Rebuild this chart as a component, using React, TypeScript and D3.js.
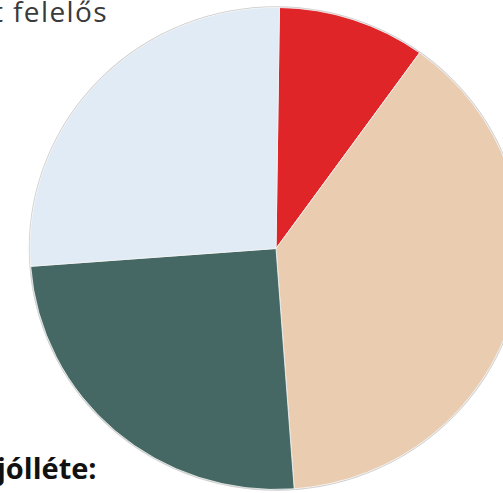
import { useEffect, useRef } from 'react';
import * as d3 from 'd3';

// slice shares, clockwise from the top
const categories = ['piros', 'bézs', 'zöld', 'világoskék'];
const shares = [9.7, 38.9, 25.0, 26.4];
const colors = ['#df2528', '#eacdb0', '#466864', '#e0ebf6'];

const topText = 't felelős';
const bottomText = 'jólléte:';

export default function App() {
  const svgRef = useRef<SVGSVGElement>(null);

  useEffect(() => {
    if (!svgRef.current) return;
    const svg = d3.select(svgRef.current);
    svg.selectAll('*').remove();

    const cx = 276;
    const cy = 248.5;
    const r = 241;
    const sx = 246 / 241; // the source picture is a touch wider than tall

    const pie = d3.pie<number>()
      .sort(null)
      .startAngle((0.8 * Math.PI) / 180)
      .endAngle(((360 + 0.8) * Math.PI) / 180);

    const arc = d3.arc<d3.PieArcDatum<number>>()
      .innerRadius(0)
      .outerRadius(r);

    const g = svg.append('g')
      .attr('transform', `translate(${cx},${cy}) scale(${sx},1)`);

    g.append('circle')
      .attr('r', r + 0.6)
      .attr('fill', 'none')
      .attr('stroke', '#cfcfcf')
      .attr('stroke-width', 1.2);

    g.selectAll('path.slice')
      .data(pie(shares))
      .enter()
      .append('path')
      .attr('class', 'slice')
      .attr('d', arc)
      .attr('fill', (_, i) => colors[i])
      .attr('stroke', '#f4f4f4')
      .attr('stroke-width', 0.8)
      .append('title')
      .text((d, i) => `${categories[i]}: ${d.data}%`);

    svg.append('text')
      .attr('x', -7)
      .attr('y', 22)
      .attr('fill', '#3a3a3a')
      .style('font-family', '"Open Sans", sans-serif')
      .style('font-weight', 400)
      .style('font-size', '28px')
      .style('letter-spacing', '1.4px')
      .text(topText);

    svg.append('text')
      .attr('x', -3)
      .attr('y', 479)
      .attr('fill', '#111')
      .style('font-family', '"Open Sans", sans-serif')
      .style('font-weight', 700)
      .style('font-size', '29px')
      .text(bottomText);
  }, []);

  return (
    <svg
      ref={svgRef}
      width={503}
      height={493}
      style={{ position: 'absolute', left: 0, top: 0, background: '#fff' }}
    />
  );
}
